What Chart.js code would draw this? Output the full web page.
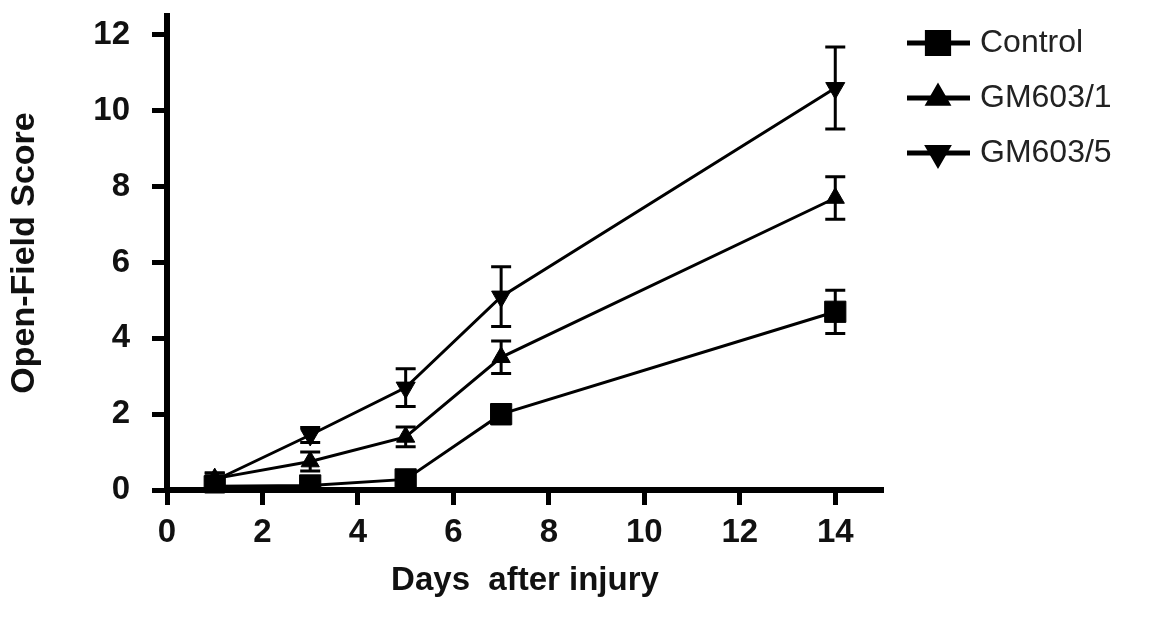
<!DOCTYPE html>
<html>
<head>
<meta charset="utf-8">
<title>Open-Field Score</title>
<script src="https://cdn.jsdelivr.net/npm/chart.js@4.4.0/dist/chart.umd.min.js"></script>
<style>
  html, body { margin: 0; padding: 0; background: #fff; }
  #wrap { width: 1169px; height: 617px; }
</style>
</head>
<body>
<div id="wrap"><canvas id="scoreChart"></canvas></div>
<script>
// days after injury
const days = [1, 3, 5, 7, 14];

// mean scores
const control = [0.1, 0.12, 0.28, 2.0, 4.7];
const gm603_1 = [0.3, 0.75, 1.4, 3.5, 7.7];
const gm603_5 = [0.25, 1.45, 2.7, 5.1, 10.6];

// error bars (+/-)
const controlErr = [0.15, 0.1, 0.12, 0.25, 0.57];
const gm603_1Err = [0.15, 0.25, 0.26, 0.43, 0.56];
const gm603_5Err = [0.2, 0.2, 0.5, 0.79, 1.08];

const xTicks = [0, 2, 4, 6, 8, 10, 12, 14];
const yTicks = [0, 2, 4, 6, 8, 10, 12];

const FONT = "'Liberation Sans', Arial, sans-serif";

function points(values) {
    return days.map((d, i) => ({ x: d, y: values[i] }));
}

// error bars, drawn through the scales
const errorBars = {
    id: 'errorBars',
    afterDatasetsDraw(chart) {
        const ctx = chart.ctx;
        const xs = chart.scales.x, ys = chart.scales.y;
        ctx.save();
        ctx.strokeStyle = '#000';
        ctx.lineWidth = 3;
        chart.data.datasets.forEach(ds => {
            ds.data.forEach((p, i) => {
                const e = ds.errors[i];
                const px = xs.getPixelForValue(p.x);
                const top = ys.getPixelForValue(p.y + e);
                const bot = ys.getPixelForValue(p.y - e);
                ctx.beginPath();
                ctx.moveTo(px, top); ctx.lineTo(px, bot);
                ctx.moveTo(px - 10, top); ctx.lineTo(px + 10, top);
                ctx.moveTo(px - 10, bot); ctx.lineTo(px + 10, bot);
                ctx.stroke();
            });
        });
        ctx.restore();
    }
};

// legend on the right: line with marker, then label
const sideLegend = {
    id: 'sideLegend',
    afterDraw(chart) {
        const ctx = chart.ctx;
        chart.data.datasets.forEach((ds, i) => {
            const y = 43 + i * 55;
            ctx.save();
            ctx.strokeStyle = '#000';
            ctx.fillStyle = '#000';
            ctx.lineWidth = 5;
            ctx.beginPath();
            ctx.moveTo(907, y);
            ctx.lineTo(970, y);
            ctx.stroke();
            Chart.helpers.drawPoint(ctx, {
                pointStyle: ds.pointStyle,
                rotation: ds.pointRotation || 0,
                radius: ds.pointRadius,
                borderWidth: 1
            }, 938, y);
            ctx.fillStyle = '#222';
            ctx.font = '32px ' + FONT;
            ctx.textAlign = 'left';
            ctx.textBaseline = 'middle';
            ctx.fillText(ds.label, 980, y);
            ctx.restore();
        });
    }
};

const ctx = document.getElementById('scoreChart').getContext('2d');
new Chart(ctx, {
    type: 'line',
    data: {
        datasets: [{
            label: 'Control',
            data: points(control),
            errors: controlErr,
            pointStyle: 'rect',
            pointRadius: 15
        }, {
            label: 'GM603/1',
            data: points(gm603_1),
            errors: gm603_1Err,
            pointStyle: 'triangle',
            pointRadius: 10.5
        }, {
            label: 'GM603/5',
            data: points(gm603_5),
            errors: gm603_5Err,
            pointStyle: 'triangle',
            pointRotation: 180,
            pointRadius: 11
        }].map(ds => Object.assign({
            borderColor: '#000',
            backgroundColor: '#000',
            pointBackgroundColor: '#000',
            pointBorderColor: '#000',
            borderWidth: 3,
            pointBorderWidth: 1,
            tension: 0
        }, ds))
    },
    options: {
        responsive: true,
        maintainAspectRatio: false,
        animation: false,
        layout: {
            padding: { left: 0, top: 13, right: 286, bottom: 10 }
        },
        scales: {
            x: {
                type: 'linear',
                min: 0,
                max: 15,
                afterBuildTicks: scale => {
                    scale.ticks = xTicks.map(v => ({ value: v }));
                },
                afterFit: scale => {
                    scale.height = 117;
                    scale.paddingLeft = 0;
                    scale.paddingRight = 0;
                },
                border: { display: true, color: '#000', width: 6 },
                grid: {
                    drawOnChartArea: false,
                    drawTicks: true,
                    tickLength: 15,
                    tickWidth: 5,
                    tickColor: '#000'
                },
                ticks: {
                    color: '#111',
                    padding: 8,
                    font: { family: FONT, size: 33, weight: 'bold' }
                },
                title: {
                    display: true,
                    text: 'Days  after injury',
                    color: '#111',
                    padding: { top: 0, bottom: 6 },
                    font: { family: FONT, size: 33, weight: 'bold' }
                }
            },
            y: {
                min: 0,
                max: 12.5,
                afterBuildTicks: scale => {
                    scale.ticks = yTicks.map(v => ({ value: v }));
                },
                afterFit: scale => {
                    scale.width = 167;
                    scale.paddingTop = 0;
                    scale.paddingBottom = 0;
                },
                border: { display: true, color: '#000', width: 6 },
                grid: {
                    drawOnChartArea: false,
                    drawTicks: true,
                    tickLength: 15,
                    tickWidth: 5,
                    tickColor: '#000'
                },
                ticks: {
                    color: '#111',
                    padding: 22,
                    font: { family: FONT, size: 33, weight: 'bold' }
                },
                title: {
                    display: true,
                    text: 'Open-Field Score',
                    color: '#111',
                    padding: { top: 4, bottom: 0 },
                    font: { family: FONT, size: 34, weight: 'bold' }
                }
            }
        },
        plugins: {
            legend: { display: false },
            tooltip: { enabled: false }
        }
    },
    plugins: [errorBars, sideLegend]
});
</script>
</body>
</html>
